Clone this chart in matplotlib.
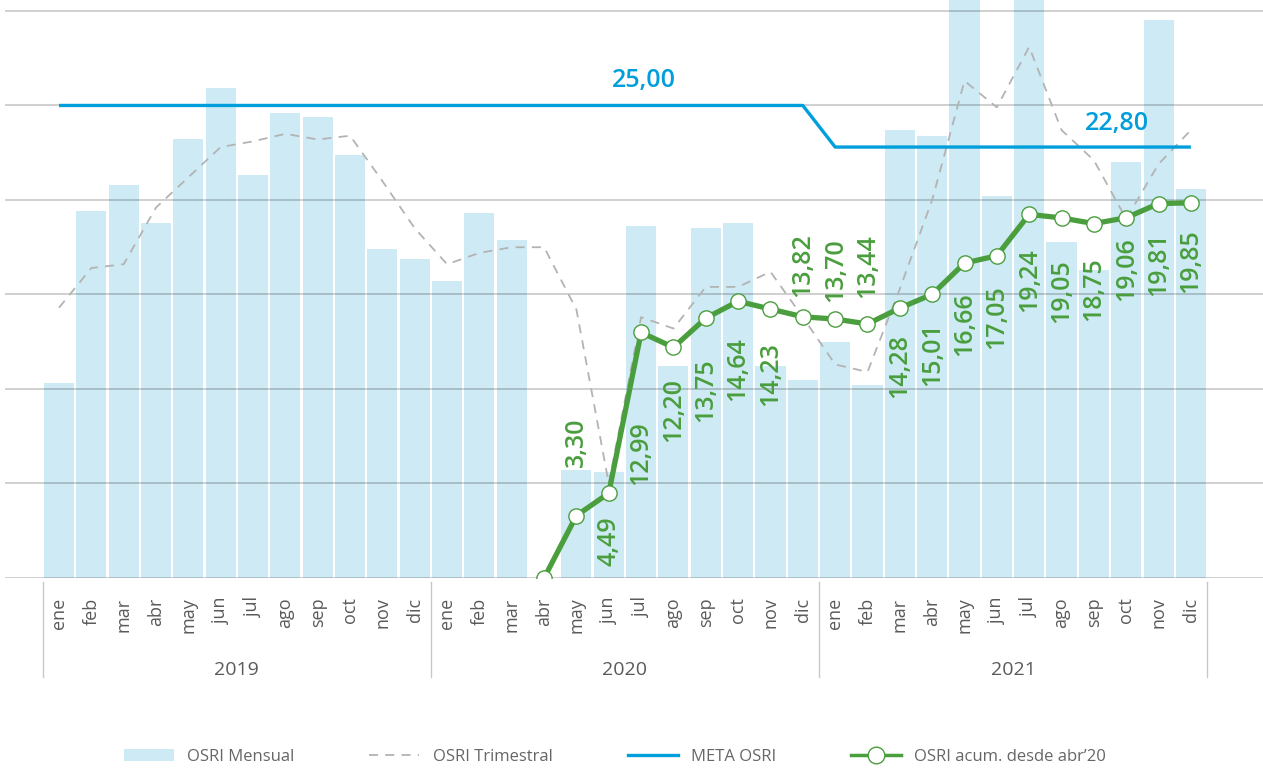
import numpy as np
import matplotlib
matplotlib.use("Agg")
import matplotlib.pyplot as plt
import matplotlib.transforms as mtransforms
from matplotlib.lines import Line2D
from matplotlib.patches import Patch

plt.rcParams['font.family'] = ['Open Sans', 'DejaVu Sans']

# ---- data -----------------------------------------------------------------
years = ["2019", "2020", "2021"]
months = ["ene", "feb", "mar", "abr", "may", "jun",
          "jul", "ago", "sep", "oct", "nov", "dic"]

osri_mensual = [10.3, 19.4, 20.8, 18.8, 23.2, 25.9, 21.3, 24.6, 24.4, 22.4, 17.4, 16.9,
                15.7, 19.3, 17.9, 0.0, 5.7, 5.6, 18.6, 11.2, 18.5, 18.8, 11.2, 10.5,
                12.5, 10.2, 23.7, 23.4, 31.1, 20.2, 33.0, 17.8, 16.3, 22.0, 29.5, 20.6]

osri_trimestral = [14.3, 16.4, 16.6, 19.6, 21.2, 22.8, 23.1, 23.5, 23.2, 23.4, 21.0, 18.5,
                   16.6, 17.2, 17.5, 17.5, 14.2, 5.0, 13.8, 13.2, 15.4, 15.4, 16.2, 13.8,
                   11.3, 10.9, 15.3, 20.0, 26.3, 24.9, 28.1, 23.7, 22.1, 19.0, 21.9, 23.7]

meta_osri = [25.0, 25.0, 25.0, 25.0, 25.0, 25.0, 25.0, 25.0, 25.0, 25.0, 25.0, 25.0,
             25.0, 25.0, 25.0, 25.0, 25.0, 25.0, 25.0, 25.0, 25.0, 25.0, 25.0, 25.0,
             22.8, 22.8, 22.8, 22.8, 22.8, 22.8, 22.8, 22.8, 22.8, 22.8, 22.8, 22.8]

# cumulative indicator, starting in abr 2020 (index 15)
acum_start = 15
osri_acum = [0.00, 3.30, 4.49, 12.99, 12.20, 13.75, 14.64, 14.23, 13.82,
             13.70, 13.44, 14.28, 15.01, 16.66, 17.05, 19.24, 19.05, 18.75,
             19.06, 19.81, 19.85]

# label offsets (points, + above / - below the marker); abr'20 has no label
acum_label_offset = [None, 35, -17, -64, -22, -29, -26, -24, 14,
                     12, 19, -19, -20, -21, -21, -24, -30, -24,
                     -14, -21, -19]

meta_labels = [(18.1, 25.0, 18), (32.7, 22.8, 17)]

# ---- style ----------------------------------------------------------------
BAR = '#cdeaf5'
DASH = '#b3b3b3'
BLUE = '#009fdb'
GREEN = '#4a9e3d'
GREY_TXT = '#5a5a5a'

W, H = 1263, 768
fig = plt.figure(figsize=(W / 100, H / 100), dpi=100)
ax = fig.add_axes([5 / W, 190 / H, 1258 / W, 578 / H])

x = np.arange(len(osri_mensual))
ax.bar(x, osri_mensual, width=0.93, color=BAR, zorder=1)
ax.plot(x, osri_trimestral, color=DASH, lw=1.3, ls=(0, (5, 4)), zorder=3)
ax.plot(x, meta_osri, color=BLUE, lw=2.4, zorder=4,
        solid_joinstyle='round', solid_capstyle='butt')

xa = x[acum_start:acum_start + len(osri_acum)]
ax.plot(xa, osri_acum, color=GREEN, lw=3.8, marker='o', ms=11,
        mfc='white', mec=GREEN, mew=1.0, zorder=5)

for xi, v, off in zip(xa, osri_acum, acum_label_offset):
    if off is None:
        continue
    ax.annotate(f"{v:.2f}".replace('.', ','), xy=(xi, v),
                xytext=(0, off), textcoords='offset points',
                rotation=90, ha='center',
                va='bottom' if off > 0 else 'top',
                fontsize=18, fontweight='semibold', color=GREEN, zorder=6)

for xm, ym, off in meta_labels:
    ax.annotate(f"{ym:.2f}".replace('.', ','), xy=(xm, ym),
                xytext=(0, off), textcoords='offset points',
                ha='center', va='center', fontsize=18,
                fontweight='semibold', color=BLUE, zorder=6)

# axes, grid
ax.set_xlim(-1.67, 37.23)
ax.set_ylim(0, 30.58)
ax.set_yticks(np.arange(0, 31, 5))
ax.yaxis.grid(True, color='black', alpha=0.2, lw=1.3)
ax.set_axisbelow(False)
ax.tick_params(axis='y', length=0, labelleft=False)
for s in ax.spines.values():
    s.set_visible(False)

ax.set_xticks(x, labels=[m for _ in years for m in months])
ax.tick_params(axis='x', length=0, pad=14, labelsize=13,
               labelcolor=GREY_TXT, labelrotation=90)

# year grouping under the month labels
trans = mtransforms.blended_transform_factory(ax.transData, ax.transAxes)
for xb in [-0.5, 11.5, 23.5, 35.5]:
    ax.plot([xb, xb], [-4 / 578, -99 / 578], transform=trans,
            color='#c8c8c8', lw=1, clip_on=False)
for i, yr in enumerate(years):
    ax.text(12 * i + 5.5, -92 / 578, yr, transform=trans, ha='center',
            va='center', fontsize=14, color=GREY_TXT)

# legend
handles = [
    Patch(facecolor=BAR, edgecolor='none'),
    Line2D([], [], color=DASH, lw=1.3, ls=(0, (5, 4))),
    Line2D([], [], color=BLUE, lw=2.4),
    Line2D([], [], color=GREEN, lw=2.5, marker='o', ms=12,
           mfc='white', mec=GREEN, mew=1.0),
]
labels = ["OSRI Mensual", "OSRI Trimestral", "META OSRI", "OSRI acum. desde abr\u201920"]
fig.legend(handles, labels, loc='center', bbox_to_anchor=(615 / W, 11 / H),
           ncol=4, frameon=False, fontsize=12, handlelength=3.0,
           handletextpad=0.8, columnspacing=4.5, labelcolor='#666666')

fig.savefig("out.png", dpi=100)
